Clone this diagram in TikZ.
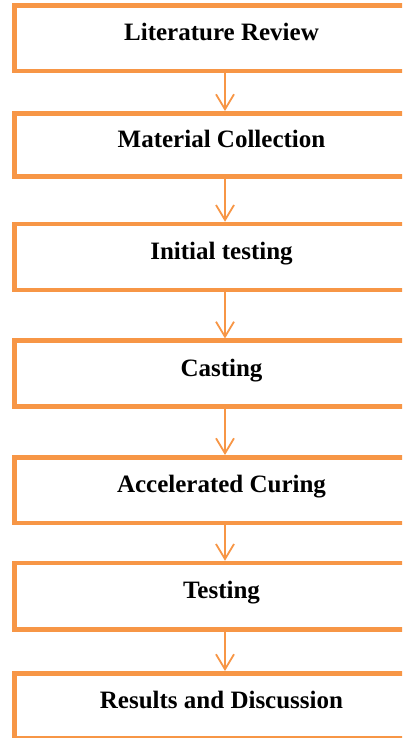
\documentclass[tikz,border=0pt]{standalone}
\usepackage{fontspec}
\setmainfont{Liberation Serif}
\usetikzlibrary{arrows.meta}
\definecolor{boxorange}{HTML}{F79646}
\begin{document}
\begin{tikzpicture}[x=1pt,y=-1pt,
  stepbox/.style={draw=boxorange, line width=4.5pt, rectangle, minimum width=414.4pt,
    inner sep=0pt, font=\fontsize{25}{30}\selectfont\bfseries,
    text height=17pt, text depth=12pt},
  flow/.style={draw=boxorange, line width=1.8pt,
    -{Straight Barb[length=15pt,width=18pt]}}]
\useasboundingbox (0,0) rectangle (402,738);
\clip (0,0) rectangle (402,738);
\node[stepbox, minimum height=65.9pt] (b1) at (221.5,38.25) {Literature Review};
\node[stepbox, minimum height=63pt]   (b2) at (221.5,144.8) {Material Collection};
\node[stepbox, minimum height=66pt]   (b3) at (221.5,257) {Initial testing};
\node[stepbox, minimum height=66pt]   (b4) at (221.5,373.7) {Casting};
\node[stepbox, minimum height=65.7pt] (b5) at (221.5,490.15) {Accelerated Curing};
\node[stepbox, minimum height=66.3pt] (b6) at (221.5,596.15) {Testing};
\node[stepbox, minimum height=64.5pt] (b7) at (221.5,705.5) {Results and Discussion};
\draw[flow] ([xshift=3.5pt]b1.south) -- ([xshift=3.5pt]b2.north);
\draw[flow] ([xshift=3.5pt]b2.south) -- ([xshift=3.5pt]b3.north);
\draw[flow] ([xshift=3.5pt]b3.south) -- ([xshift=3.5pt]b4.north);
\draw[flow] ([xshift=3.5pt]b4.south) -- ([xshift=3.5pt]b5.north);
\draw[flow] ([xshift=3.5pt]b5.south) -- ([xshift=3.5pt]b6.north);
\draw[flow] ([xshift=3.5pt]b6.south) -- ([xshift=3.5pt]b7.north);
\end{tikzpicture}
\end{document}
